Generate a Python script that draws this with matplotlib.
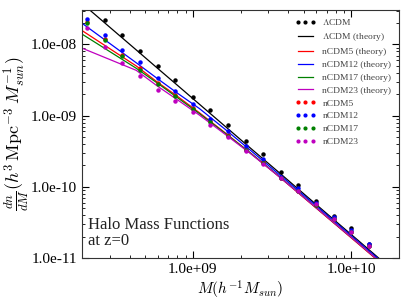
import matplotlib
matplotlib.use("Agg")
import matplotlib.pyplot as plt
from matplotlib.ticker import FuncFormatter, NullFormatter
from matplotlib.lines import Line2D
from matplotlib.legend_handler import HandlerLine2D

# ---- data ----
mass_bins = [2.154e8, 2.783e8, 3.594e8, 4.642e8, 5.995e8, 7.743e8, 1.0e9, 1.292e9,
             1.668e9, 2.154e9, 2.783e9, 3.594e9, 4.642e9, 5.995e9, 7.743e9, 1.0e10, 1.292e10]

lcdm_pts = [3.6e-8, 2.20e-8, 1.35e-8, 8.03e-9, 5.05e-9, 3.12e-9, 1.83e-9, 1.21e-9,
            7.31e-10, 4.37e-10, 2.85e-10, 1.61e-10, 1.06e-10, 6.31e-11, 3.91e-11, 2.61e-11, 1.55e-11]
ncdm5_pts = [2.10e-8, 1.21e-8, 7.13e-9, 4.65e-9, 2.92e-9, 1.97e-9, 1.28e-9, 8.32e-10,
             5.42e-10, 3.34e-10, 2.20e-10, 1.32e-10, 8.65e-11, 5.51e-11, 3.51e-11, 2.31e-11, 1.47e-11]
ncdm12_pts = [2.27e-8, 1.36e-8, 8.46e-9, 5.64e-9, 3.37e-9, 2.19e-9, 1.47e-9, 8.99e-10,
              6.17e-10, 3.72e-10, 2.43e-10, 1.37e-10, 9.53e-11, 5.87e-11, 3.71e-11, 2.47e-11, 1.57e-11]
ncdm17_pts = [2.00e-8, 1.15e-8, 6.84e-9, 4.36e-9, 2.83e-9, 1.86e-9, 1.24e-9, 8.11e-10,
              5.25e-10, 3.29e-10, 2.17e-10, 1.32e-10, 8.65e-11, 5.51e-11, 3.51e-11, 2.31e-11, 1.47e-11]
ncdm23_pts = [1.69e-8, 9.14e-9, 5.56e-9, 3.62e-9, 2.26e-9, 1.62e-9, 1.11e-9, 7.48e-10,
              5.00e-10, 3.17e-10, 2.07e-10, 1.35e-10, 8.73e-11, 5.69e-11, 3.51e-11, 2.33e-11, 1.46e-11]

theory_mass = [2.0e8, 4.4e8, 6.0e8, 8.0e8, 1.1e9, 1.6e9, 2.3e9, 3.4e9, 5.0e9, 7.5e9,
               1.1e10, 1.7e10, 2.5e10]
lcdm_th = [3.78e-8, 8.38e-9, 4.62e-9, 2.67e-9, 1.45e-9, 7.08e-10, 3.53e-10, 1.68e-10,
           8.02e-11, 3.69e-11, 1.78e-11, 7.74e-12, 3.69e-12]
ncdm5_th = [1.57e-8, 4.99e-9, 2.94e-9, 1.87e-9, 1.10e-9, 5.74e-10, 3.01e-10, 1.47e-10,
            7.10e-11, 3.30e-11, 1.60e-11, 6.98e-12, 3.35e-12]
ncdm12_th = [1.99e-8, 5.53e-9, 3.30e-9, 2.07e-9, 1.26e-9, 6.43e-10, 3.29e-10, 1.58e-10,
             7.64e-11, 3.54e-11, 1.71e-11, 7.50e-12, 3.57e-12]
ncdm17_th = [1.40e-8, 4.63e-9, 2.85e-9, 1.79e-9, 1.07e-9, 5.65e-10, 3.01e-10, 1.48e-10,
             7.21e-11, 3.35e-11, 1.63e-11, 7.13e-12, 3.40e-12]
ncdm23_th = [8.89e-9, 4.33e-9, 2.59e-9, 1.67e-9, 1.02e-9, 5.47e-10, 2.96e-10, 1.47e-10,
             7.16e-11, 3.35e-11, 1.63e-11, 7.13e-12, 3.40e-12]

x_ticks = [1e9, 1e10]
y_ticks = [1e-11, 1e-10, 1e-9, 1e-8]

plt.rcParams['font.family'] = ['Liberation Serif', 'DejaVu Serif']
plt.rcParams['mathtext.fontset'] = 'cm'

fig = plt.figure(figsize=(4.09, 3.07), dpi=100)
ax = fig.add_axes([0.2005, 0.1596, 0.7751, 0.8094])

ms = 2.2
lw = 0.9
ax.plot(mass_bins, lcdm_pts, 'o', color='black', ms=ms, ls='none', label=r'$\Lambda$CDM')
ax.plot(theory_mass, lcdm_th, '-', color='black', lw=lw, label=r'$\Lambda$CDM (theory)')
ax.plot(theory_mass, ncdm5_th, '-', color='red', lw=lw, label='nCDM5 (theory)')
ax.plot(theory_mass, ncdm12_th, '-', color='blue', lw=lw, label='nCDM12 (theory)')
ax.plot(theory_mass, ncdm17_th, '-', color='green', lw=lw, label='nCDM17 (theory)')
ax.plot(theory_mass, ncdm23_th, '-', color='m', lw=lw, label='nCDM23 (theory)')
ax.plot(mass_bins, ncdm5_pts, 'o', color='red', ms=ms, ls='none', label='nCDM5')
ax.plot(mass_bins, ncdm12_pts, 'o', color='blue', ms=ms, ls='none', label='nCDM12')
ax.plot(mass_bins, ncdm17_pts, 'o', color='green', ms=ms, ls='none', label='nCDM17')
ax.plot(mass_bins, ncdm23_pts, 'o', color='m', ms=ms, ls='none', label='nCDM23')

ax.set_xscale('log')
ax.set_yscale('log')
ax.set_xticks(x_ticks)
ax.set_yticks(y_ticks)
ax.set_xlim(2e8, 2e10)
ax.set_ylim(1e-11, 3.1e-8)

fmt = FuncFormatter(lambda v, p: f"{v:.1e}")
ax.xaxis.set_major_formatter(fmt)
ax.yaxis.set_major_formatter(fmt)
ax.xaxis.set_minor_formatter(NullFormatter())
ax.yaxis.set_minor_formatter(NullFormatter())
ax.tick_params(which='both', direction='in', top=True, right=True, labelsize=11)
ax.tick_params(which='major', length=5)
ax.tick_params(which='minor', length=2.5)
for s in ax.spines.values():
    s.set_color('#333333')

ax.set_xlabel(r'$M(h^{-1}M_{sun})$', fontsize=11, labelpad=2)
ax.set_ylabel(r'$\frac{dn}{dM}(h^3\,\mathrm{Mpc}^{-3}\;M_{sun}^{-1})$', fontsize=13, labelpad=0)

ax.text(0.02, 0.038, 'Halo Mass Functions\nat z=0', transform=ax.transAxes,
        fontsize=12, ha='left', va='bottom', color='#222222', linespacing=1.0)

leg = ax.legend(loc='upper right', frameon=False, fontsize=6.8, numpoints=3,
                handlelength=1.6, labelspacing=0.45, handletextpad=1.0,
                borderaxespad=0.4, borderpad=0.4, markerscale=0.9,
                handler_map={Line2D: HandlerLine2D(marker_pad=0.05)})
for t in leg.get_texts():
    t.set_color('#444444')

fig.savefig('out.png', dpi=100)
